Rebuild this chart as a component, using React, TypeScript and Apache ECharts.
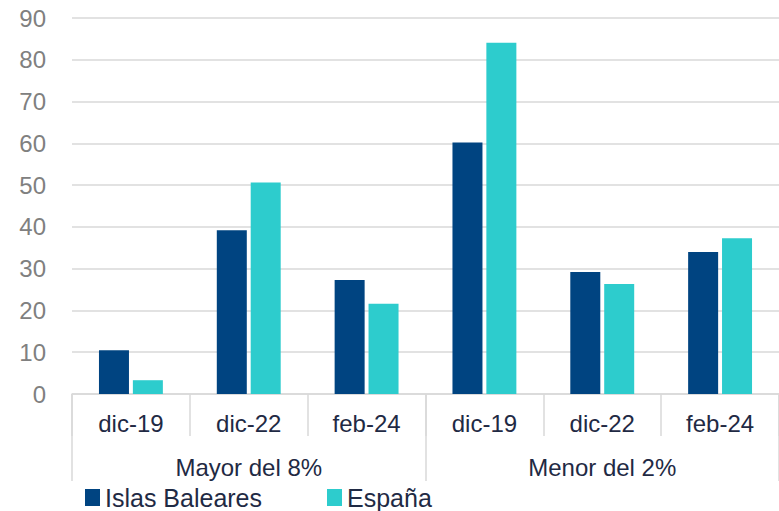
import React, { useEffect, useRef } from "react";
import * as echarts from "echarts";

const groups = ["Mayor del 8%", "Menor del 2%"];
const periods = ["dic-19", "dic-22", "feb-24"];
const categories = groups.flatMap((g) => periods.map((p) => g + "|" + p));
const baleares = [10.5, 39.2, 27.3, 60.2, 29.2, 34.0];
const espana = [3.3, 50.6, 21.6, 84.1, 26.3, 37.3];
const seriesNames = ["Islas Baleares", "España"];

const FONT = "'Liberation Sans', Arial, sans-serif";

export default function App() {
  const ref = useRef<HTMLDivElement>(null);
  useEffect(() => {
    if (!ref.current) return;
    const chart = echarts.init(ref.current, null, { renderer: "svg" });
    chart.setOption({
      animation: false,
      textStyle: { fontFamily: FONT },
      grid: { left: 72, right: -10, top: 18, bottom: 117, containLabel: false },
      legend: {
        left: 80,
        top: 480,
        itemWidth: 15,
        itemHeight: 17,
        itemGap: 65,
        icon: "rect",
        textStyle: { fontSize: 25, lineHeight: 24, color: "#1f2a44", fontFamily: FONT },
        data: seriesNames,
      },
      xAxis: [
        {
          type: "category",
          position: "bottom",
          data: categories,
          axisLine: { show: true, lineStyle: { color: "#d9d9d9", width: 1.5 } },
          axisTick: { show: true, interval: 0, length: 42, lineStyle: { color: "#d9d9d9", width: 1.5 } },
          axisLabel: {
            interval: 0,
            margin: 17,
            fontSize: 24,
            color: "#1f2a44",
            formatter: (v: string) => v.split("|")[1],
          },
          splitLine: { show: false },
        },
        {
          type: "category",
          position: "bottom",
          offset: 0,
          data: groups,
          axisLine: { show: false },
          axisTick: { show: true, interval: 0, length: 87, lineStyle: { color: "#d9d9d9", width: 1.5 } },
          axisLabel: { interval: 0, margin: 61, fontSize: 24, color: "#1f2a44" },
          splitLine: { show: false },
        },
      ],
      yAxis: {
        type: "value",
        min: 0,
        max: 90,
        interval: 10,
        axisLine: { show: false },
        axisTick: { show: false },
        axisLabel: { fontSize: 24, color: "#808080", margin: 26 },
        splitLine: { lineStyle: { color: "#d9d9d9", width: 1.5 } },
      },
      series: [
        {
          name: seriesNames[0],
          type: "bar",
          xAxisIndex: 0,
          data: baleares,
          barWidth: 30,
          barGap: "13%",
          itemStyle: { color: "#004481" },
        },
        {
          name: seriesNames[1],
          type: "bar",
          xAxisIndex: 0,
          data: espana,
          barWidth: 30,
          barGap: "13%",
          itemStyle: { color: "#2DCCCD" },
        },
      ],
    });
    return () => chart.dispose();
  }, []);
  return <div ref={ref} style={{ width: 779, height: 511, position: "absolute", left: 0, top: 0 }} />;
}
